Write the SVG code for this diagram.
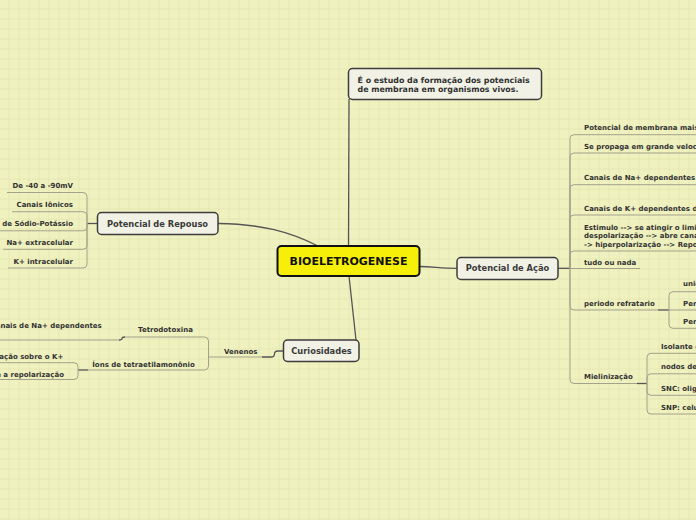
<svg xmlns="http://www.w3.org/2000/svg" width="696" height="520" viewBox="0 0 696 520">
<defs>
<pattern id="grid" width="10" height="10" patternUnits="userSpaceOnUse">
<rect x="0" y="0" width="10" height="10" fill="#eff1be"/>
<rect x="8.5" y="0" width="1" height="10" fill="#e5e8b4"/>
<rect x="0" y="8.5" width="10" height="1" fill="#e5e8b4"/>
</pattern>
</defs>
<style>
text{font-family:"DejaVu Sans","Verdana",sans-serif;font-weight:bold;fill:#333}
.s{font-size:7px}
.n{font-size:8.3px;fill:#3a3a3a}
.box{fill:#f1f1e6;stroke:#3d3d3d;stroke-width:1.5}
.c{fill:none;stroke:#555;stroke-width:1.3}
.u{fill:none;stroke:#a3a38c;stroke-width:1}
.e{text-anchor:end}
.m{text-anchor:middle}
</style>
<rect width="696" height="520" fill="url(#grid)"/>

<g id="connectors">
<path class="c" d="M348.5,246 L349,99"/>
<path class="c" d="M318,246 C290,232 262,224 218,223.5"/>
<path class="c" d="M419.5,266.5 C435,267 442,268.3 457,268.3"/>
<path class="c" d="M349,276 L356,340"/>
<!-- Potencial de Acao bracket -->
<path class="c" d="M558,268.3 H570"/>
<path class="u" d="M570,268.3 V138.7 Q570,134.7 574,134.7 H696"/>
<path class="u" d="M570,268.3 V157 Q570,153 574,153 H696"/>
<path class="u" d="M570,268.3 V188.7 Q570,184.7 574,184.7 H696"/>
<path class="u" d="M570,268.3 V219 Q570,215 574,215 H696"/>
<path class="u" d="M570,268.3 V255 Q570,251 574,251 H696"/>
<path class="u" d="M570,268.5 H640"/>
<path class="u" d="M570,268.3 V306 Q570,310 574,310 H658"/>
<path class="u" d="M570,268.3 V379.5 Q570,383.5 574,383.5 H637"/>
<path class="c" d="M658,310 H669"/>
<path class="c" d="M637,383.5 H647"/>
<path class="u" d="M669,310 V295.7 Q669,291.7 673,291.7 H696"/>
<path class="u" d="M669,310 H696"/>
<path class="u" d="M669,310 V324.3 Q669,328.3 673,328.3 H696"/>
<path class="u" d="M647,383.5 V357.3 Q647,353.3 651,353.3 H696"/>
<path class="u" d="M647,383.5 V377.8 Q647,373.8 651,373.8 H696"/>
<path class="u" d="M647,383.5 V391.3 Q647,395.3 651,395.3 H696"/>
<path class="u" d="M647,383.5 V410 Q647,414 651,414 H696"/>
<!-- Potencial de Repouso bracket -->
<path class="c" d="M97.5,223.5 H87"/>
<path class="u" d="M87,223.5 V196.5 Q87,192.5 83,192.5 H7"/>
<path class="u" d="M87,223.5 V215.7 Q87,211.7 83,211.7 H12"/>
<path class="u" d="M87,223.5 V226.8 Q87,230.8 83,230.8 H0"/>
<path class="u" d="M87,223.5 V245.3 Q87,249.3 83,249.3 H3"/>
<path class="u" d="M87,223.5 V264 Q87,268 83,268 H8"/>
<!-- Curiosidades branch -->
<path class="c" d="M283.5,351 H278 Q274.5,351 274.5,354 Q274.5,357 271,357 H262"/>
<path class="u" d="M262,357 H208.5"/>
<path class="u" d="M208.5,357 V341 Q208.5,337 204.5,337 H125"/>
<path class="u" d="M208.5,357 V366 Q208.5,370 204.5,370 H88"/>
<path class="c" d="M125,337 Q122,337 122,338.5 Q122,340 119,340"/>
<path class="u" d="M119,340 H0"/>
<path class="c" d="M88,370 H78"/>
<path class="u" d="M78,370 V366.7 Q78,362.7 74,362.7 H0"/>
<path class="u" d="M78,370 V375.5 Q78,379.5 74,379.5 H0"/>
</g>

<g id="node-top">
<rect class="box" x="348.5" y="68.5" width="193" height="31" rx="4"/>
<text x="357.5" y="82.8" style="font-size:7.9px">É o estudo da formação dos potenciais</text>
<text x="357.5" y="92" style="font-size:7.9px">de membrana em organismos vivos.</text>
</g>

<g id="node-central">
<rect x="277.5" y="246" width="142" height="30" rx="4" fill="#f6ef0a" stroke="#111" stroke-width="2"/>
<text class="m" x="348.5" y="265.3" style="font-size:11px;fill:#111">BIOELETROGENESE</text>
</g>

<g id="node-acao">
<rect class="box" x="457" y="257.5" width="101" height="22" rx="4"/>
<text class="n m" x="507.5" y="271.3">Potencial de Ação</text>
</g>

<g id="node-repouso">
<rect class="box" x="97.5" y="212.5" width="120.5" height="22" rx="4"/>
<text class="n m" x="157.5" y="226.5">Potencial de Repouso</text>
</g>

<g id="node-curiosidades">
<rect class="box" x="283.5" y="340" width="75.5" height="21.5" rx="4"/>
<text class="n m" x="321.5" y="354">Curiosidades</text>
</g>

<g id="acao-children">
<text class="s" x="584" y="130.2">Potencial de membrana mais</text>
<text class="s" x="584" y="148.5">Se propaga em grande veloc</text>
<text class="s" x="584" y="179.8">Canais de Na+ dependentes</text>
<text class="s" x="584" y="210.5">Canais de K+ dependentes d</text>
<text class="s" x="584" y="229.8">Estimulo --&gt; se atingir o limi</text>
<text class="s" x="584" y="238.2">despolarização --&gt; abre cana</text>
<text class="s" x="584" y="246.5">-&gt; hiperpolarização --&gt; Repo</text>
<text class="s" x="584" y="265">tudo ou nada</text>
<text class="s" x="584" y="305.8">periodo refratario</text>
<text class="s" x="584" y="379.2">Mielinização</text>
<text class="s" x="683" y="285.8">unid</text>
<text class="s" x="683" y="305.5">Per</text>
<text class="s" x="683" y="324.2">Per</text>
<text class="s" x="661" y="349.2">Isolante e</text>
<text class="s" x="661" y="369.2">nodos de</text>
<text class="s" x="661" y="390.8">SNC: olig</text>
<text class="s" x="661" y="410.2">SNP: celu</text>
</g>

<g id="repouso-children">
<text class="s e" x="73" y="187.5">De -40 a -90mV</text>
<text class="s e" x="73" y="206.8">Canais Iônicos</text>
<text class="s e" x="73" y="225.8">de Sódio-Potássio</text>
<text class="s e" x="73" y="245.2">Na+ extracelular</text>
<text class="s e" x="73" y="264.2">K+ intracelular</text>
</g>

<g id="curiosidades-children">
<text class="s m" x="240.7" y="354.2">Venenos</text>
<text class="s m" x="165.5" y="331.8">Tetrodotoxina</text>
<text class="s m" x="143.5" y="366.8">Íons de tetraetilamonônio</text>
<text class="s e" x="101.7" y="327.5">canais de Na+ dependentes</text>
<text class="s e" x="63.3" y="358.5">ação sobre o K+</text>
<text class="s e" x="64" y="376.8">e a repolarização</text>
</g>
</svg>
